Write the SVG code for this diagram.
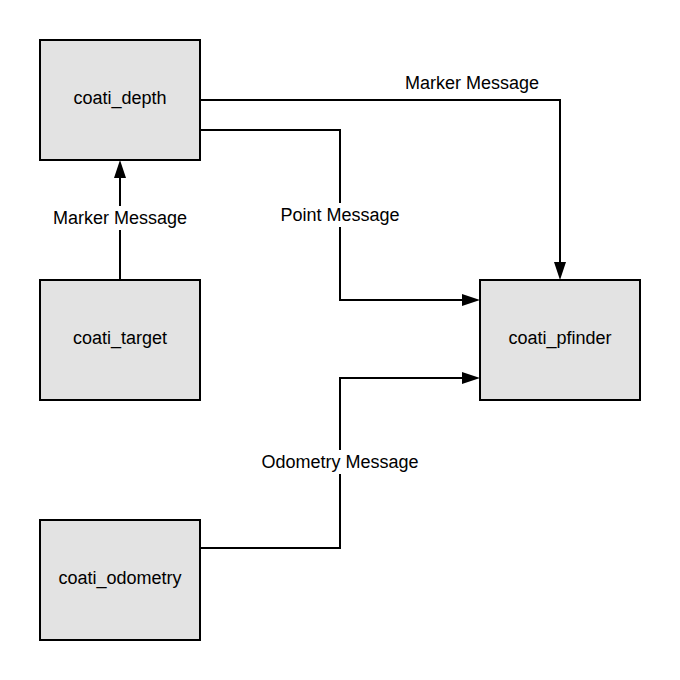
<svg xmlns="http://www.w3.org/2000/svg" width="680" height="680" viewBox="0 0 680 680">
<style>
.box{fill:#e3e3e3;stroke:#000;stroke-width:2}
.lbl{font-family:"Liberation Sans",Arial,sans-serif;font-size:18px;fill:#000;text-anchor:middle}
.ln{fill:none;stroke:#000;stroke-width:2}
.bg{fill:#fff}
</style>
<rect width="680" height="680" fill="#fff"/>
<g id="connectors">
<path class="ln" d="M200,100 H560 V264"/>
<polygon points="560,280 554,262 566,262"/>
<text class="lbl" x="472" y="89">Marker Message</text>
<path class="ln" d="M200,130 H340 V300 H464"/>
<polygon points="480,300 462,294 462,306"/>
<rect class="bg" x="276" y="203" width="128" height="24"/>
<text class="lbl" x="340" y="221">Point Message</text>
<path class="ln" d="M120,280 V176"/>
<polygon points="120,160 114,178 126,178"/>
<rect class="bg" x="50" y="206" width="140" height="24"/>
<text class="lbl" x="120" y="224">Marker Message</text>
<path class="ln" d="M200,548 H340 V378 H464"/>
<polygon points="480,378 462,372 462,384"/>
<rect class="bg" x="258" y="450" width="164" height="24"/>
<text class="lbl" x="340" y="468">Odometry Message</text>
</g>
<g id="coati_depth">
<rect class="box" x="40" y="40" width="160" height="120"/>
<text class="lbl" x="120" y="104">coati_depth</text>
</g>
<g id="coati_target">
<rect class="box" x="40" y="280" width="160" height="120"/>
<text class="lbl" x="120" y="344">coati_target</text>
</g>
<g id="coati_odometry">
<rect class="box" x="40" y="520" width="160" height="120"/>
<text class="lbl" x="120" y="584">coati_odometry</text>
</g>
<g id="coati_pfinder">
<rect class="box" x="480" y="280" width="160" height="120"/>
<text class="lbl" x="560" y="344">coati_pfinder</text>
</g>
</svg>
